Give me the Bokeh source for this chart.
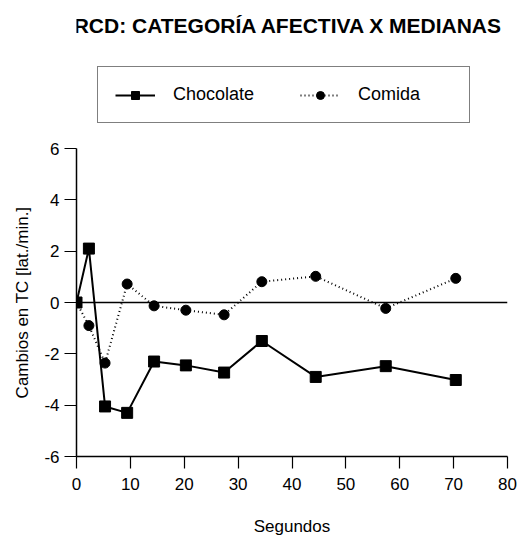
import math

from bokeh.plotting import figure
from bokeh.layouts import row
from bokeh.models import (Legend, LegendItem, Label, Span, FixedTicker, Range1d,
                          CustomJSTickFormatter)
from bokeh.embed import file_html
from bokeh.resources import INLINE

# Heart-rate change medians (lat./min.) over time (s)
seconds = [0, 2.3, 5.3, 9.4, 14.4, 20.3, 27.4, 34.4, 44.4, 57.4, 70.4]
chocolate = [0, 2.1, -4.05, -4.3, -2.3, -2.45, -2.73, -1.5, -2.9, -2.48, -3.02]
comida = [0, -0.9, -2.36, 0.72, -0.13, -0.3, -0.48, 0.81, 1.02, -0.23, 0.94]

x_ticks = [0, 10, 20, 30, 40, 50, 60, 70, 80]
y_ticks = [-6, -4, -2, 0, 2, 4, 6]

FONT = "Liberation Sans"
H = 544
LABEL_W = 40            # strip holding the vertical axis title
BORDER_L, BORDER_R, BORDER_B = 36, 11, 88
AXIS_PX = 308           # height of the -6..6 axis

# The chart frame runs up to the top of the page so the title and legend can
# sit inside it; the y axis itself is bounded to -6..6.
frame_h = H - BORDER_B
y_lo, y_hi = y_ticks[0], y_ticks[-1]
y_top = y_lo + (y_hi - y_lo) * frame_h / AXIS_PX

# ---- vertical axis title strip ---------------------------------------------
side = figure(width=LABEL_W, height=H, output_backend="svg", toolbar_location=None,
              x_axis_type=None, y_axis_type=None,
              x_range=Range1d(0, 1), y_range=Range1d(0, 1),
              min_border_left=0, min_border_right=0,
              min_border_top=0, min_border_bottom=BORDER_B)
side.outline_line_color = None
side.grid.visible = False
side.add_layout(Label(x=22, y=AXIS_PX / 2, x_units="screen", y_units="screen",
                      text="Cambios en TC [lat./min.]", angle=math.pi / 2,
                      text_font=FONT, text_font_size="17px", text_color="black",
                      text_align="center", text_baseline="middle"))

# ---- chart -------------------------------------------------------------------
p = figure(width=518 - LABEL_W, height=H, output_backend="svg", toolbar_location=None,
           x_range=Range1d(x_ticks[0], x_ticks[-1]), y_range=Range1d(y_lo, y_top),
           min_border_left=BORDER_L, min_border_right=BORDER_R,
           min_border_top=0, min_border_bottom=BORDER_B)
p.outline_line_color = None
p.grid.visible = False

for ax in (p.xaxis[0], p.yaxis[0]):
    ax.axis_line_color = "black"
    ax.axis_line_width = 1.5
    ax.major_tick_line_color = "black"
    ax.major_tick_line_width = 1.2
    ax.major_tick_in = 0
    ax.major_tick_out = 12
    ax.minor_tick_line_color = None
    ax.formatter = CustomJSTickFormatter(code="return tick.toString()")
    ax.major_label_text_font = FONT
    ax.major_label_text_font_size = "17px"
    ax.major_label_text_color = "black"

p.yaxis.bounds = (y_lo, y_hi)
p.xaxis.ticker = FixedTicker(ticks=x_ticks)
p.yaxis.ticker = FixedTicker(ticks=y_ticks)
p.xaxis.axis_label = "Segundos"
p.xaxis.axis_label_text_font = FONT
p.xaxis.axis_label_text_font_style = "normal"
p.xaxis.axis_label_text_font_size = "17px"
p.xaxis.axis_label_text_color = "black"
p.xaxis.major_label_standoff = 9
p.xaxis.axis_label_standoff = 24
p.yaxis.major_label_standoff = 5

# zero reference line
p.add_layout(Span(location=0, dimension="width", line_color="black", line_width=1.5))

l1 = p.line(seconds, chocolate, line_color="black", line_width=2)
m1 = p.scatter(seconds, chocolate, marker="square", size=11, color="black")
l2 = p.line(seconds, comida, line_color="black", line_width=2, line_dash="1 3")
m2 = p.scatter(seconds, comida, marker="circle", size=10, color="black")

legend = Legend(items=[LegendItem(label="Chocolate", renderers=[l1, m1]),
                       LegendItem(label="Comida", renderers=[l2, m2])],
                orientation="horizontal", location=(21, 333),
                margin=0, padding=17, spacing=33,
                glyph_width=40, glyph_height=20, label_width=94,
                label_standoff=18,
                label_text_font=FONT, label_text_font_size="18px",
                label_text_color="black",
                border_line_color="black", border_line_width=1.5,
                background_fill_color="white", background_fill_alpha=1)
p.add_layout(legend, "center")

p.add_layout(Label(x=212, y=frame_h - 25, x_units="screen", y_units="screen",
                   text="RCD: CATEGORÍA AFECTIVA X MEDIANAS",
                   text_font=FONT, text_font_style="bold", text_font_size="21px",
                   text_align="center", text_baseline="middle", text_color="black"))

layout = row(side, p, spacing=0)
open("out.html", "w").write(file_html(layout, INLINE))
